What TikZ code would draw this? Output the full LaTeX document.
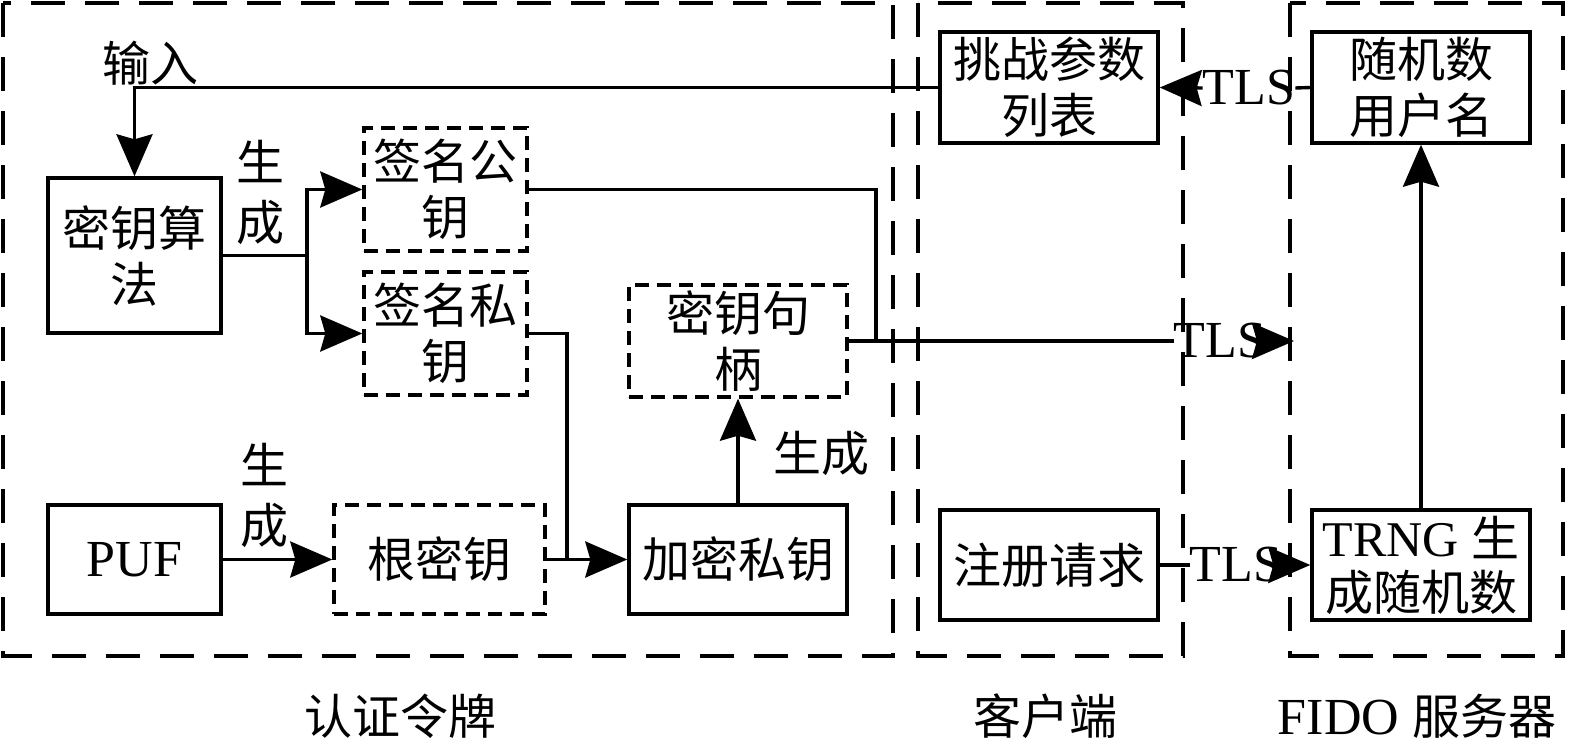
\documentclass[tikz,border=0pt]{standalone}
\usepackage{fontspec}
\setmainfont{Liberation Serif}
\newfontfamily\cjk{Noto Sans CJK SC}
\usetikzlibrary{arrows.meta}
\begin{document}
\begin{tikzpicture}[x=1pt,y=-1pt,
  every node/.style={font=\fontsize{52}{56}\selectfont},
  box/.style={draw,line width=3.4pt,inner sep=0pt,align=center,font=\fontsize{48}{56}\selectfont\cjk},
  dbox/.style={box,dash pattern=on 14pt off 8pt},
  region/.style={line width=3.4pt,dash pattern=on 34pt off 20pt},
  link/.style={line width=3.4pt},
  arr/.style={link,-{Stealth[length=42pt,width=36pt,inset=5pt]}},
  lbl/.style={font=\fontsize{48}{60}\selectfont\cjk,align=center,inner sep=0pt},
  tls/.style={inner sep=0pt,font=\fontsize{52}{56}\selectfont}
]
\useasboundingbox (0,0) rectangle (1575,752);

% boxes
\node[box,minimum width=218pt,minimum height=111pt] (tzcs) at (1049,87.5) {挑战参数\\列表};
\node[box,minimum width=218pt,minimum height=111pt] (sjs) at (1421,87.5) {随机数\\用户名};
\node[box,minimum width=173pt,minimum height=155pt] (myf) at (134.5,255.5) {密钥算\\法};
\node[dbox,minimum width=163pt,minimum height=123pt] (qmgy) at (445.5,189.5) {签名公\\钥};
\node[dbox,minimum width=163pt,minimum height=123pt] (qmsy) at (445.5,333.5) {签名私\\钥};
\node[dbox,minimum width=218pt,minimum height=112pt] (myjb) at (738,341) {密钥句\\柄};
\node[box,minimum width=173pt,minimum height=109pt,font=\fontsize{52}{56}\selectfont] (puf) at (134.5,559.5) {PUF};
\node[dbox,minimum width=211pt,minimum height=109pt] (gmy) at (439.5,559.5) {根密钥};
\node[box,minimum width=218pt,minimum height=109pt] (jmsy) at (738,559.5) {加密私钥};
\node[box,minimum width=218pt,minimum height=110pt] (zcqq) at (1049,565) {注册请求};
\node[box,minimum width=218pt,minimum height=110pt,font=\fontsize{50}{54}\selectfont] (trng) at (1421,565) {TRNG {\cjk\fontsize{48}{54}\selectfont 生}\\{\cjk\fontsize{48}{54}\selectfont 成随机数}};

% TLS labels
\node[tls] (tlsA) at (1249,88) {TLS};
\node[tls] (tlsM) at (1220,341) {TLS};
\node[tls] (tlsB) at (1236,565) {TLS};

% junction coordinates
\coordinate (br) at (307,255.5);
\coordinate (j1) at (567,559.5);
\coordinate (j2) at (876,341);
\coordinate (tlsR) at (1294,341);

% connectors
\draw[arr] (tzcs.west) -| (myf.north);
\draw[link] (myf.east) -- (br);
\draw[arr] (br) |- (qmgy.west);
\draw[arr] (br) |- (qmsy.west);
\draw[link] (qmsy.east) -| (j1);
\draw[arr] (gmy.east) -- (jmsy.west);
\draw[arr] (puf.east) -- (gmy.west);
\draw[arr] (jmsy.north) -- (myjb.south);
\draw[link] (qmgy.east) -| (j2);
\draw[link] (myjb.east) -- (tlsM.west);
\draw[arr] ([xshift=-6pt]tlsM.east) -- (tlsR);
\draw[link] (zcqq.east) -- (tlsB.west);
\draw[arr] ([xshift=-6pt]tlsB.east) -- (trng.west);
\draw[arr] (trng.north) -- (sjs.south);
\draw[link] (sjs.west) -- (tlsA.east);
\draw[arr] (tlsA.west) -- (tzcs.east);

% labels
\node[lbl] (l1) at (150,63) {输入};
\node[lbl] (l2) at (260,192) {生\\成};
\node[lbl] (l3) at (264,495) {生\\成};
\node[lbl] (l4) at (821,453) {生成};

% regions
\draw[region] (3,3) rectangle (893,656);
\draw[region] (918,3) rectangle (1183,656);
\draw[region] (1290,3) rectangle (1563,656);

\node[lbl] (r1) at (400,716) {认证令牌};
\node[lbl] (r2) at (1045,716) {客户端};
\node[font=\fontsize{52}{56}\selectfont,inner sep=0pt] (r3) at (1417,716) {FIDO {\cjk\fontsize{48}{56}\selectfont 服务器}};
\end{tikzpicture}
\end{document}
